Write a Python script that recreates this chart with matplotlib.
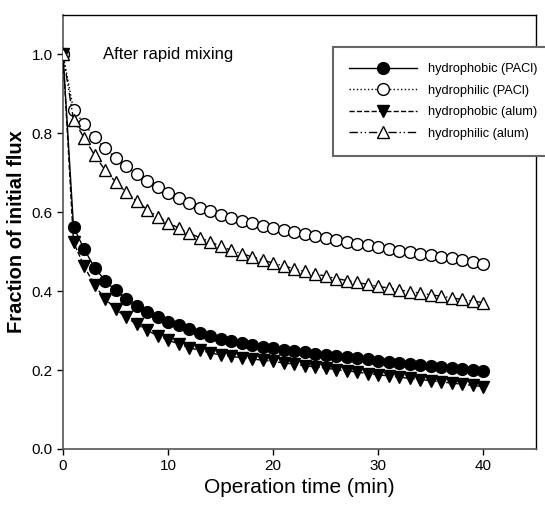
import numpy as np
import matplotlib
matplotlib.use('Agg')
import matplotlib.pyplot as plt

plt.rcParams['font.family'] = ['Liberation Sans', 'DejaVu Sans']

# Operation time (min), one reading per minute
time_min = list(range(0, 41))

# Fraction of initial flux
phobic_pacl = [1.0, 0.563, 0.507, 0.460, 0.427, 0.402, 0.381, 0.362, 0.346, 0.334,
               0.323, 0.313, 0.304, 0.295, 0.287, 0.280, 0.274, 0.268, 0.263, 0.258,
               0.256, 0.252, 0.248, 0.245, 0.242, 0.239, 0.236, 0.233, 0.230, 0.227,
               0.224, 0.221, 0.218, 0.216, 0.213, 0.210, 0.207, 0.205, 0.202, 0.200,
               0.197]
philic_pacl = [1.0, 0.860, 0.825, 0.790, 0.762, 0.738, 0.717, 0.697, 0.679, 0.663,
               0.648, 0.635, 0.623, 0.612, 0.602, 0.594, 0.586, 0.579, 0.572, 0.566,
               0.560, 0.554, 0.549, 0.544, 0.539, 0.534, 0.530, 0.525, 0.520, 0.516,
               0.512, 0.507, 0.503, 0.499, 0.495, 0.491, 0.487, 0.483, 0.479, 0.474,
               0.468]
phobic_alum = [1.0, 0.524, 0.464, 0.415, 0.381, 0.355, 0.334, 0.316, 0.301, 0.287,
               0.276, 0.266, 0.257, 0.250, 0.244, 0.238, 0.235, 0.231, 0.228, 0.225,
               0.222, 0.218, 0.215, 0.211, 0.208, 0.205, 0.201, 0.198, 0.195, 0.191,
               0.188, 0.185, 0.182, 0.179, 0.176, 0.173, 0.170, 0.167, 0.164, 0.161,
               0.158]
philic_alum = [1.0, 0.835, 0.789, 0.745, 0.707, 0.677, 0.651, 0.628, 0.607, 0.589,
               0.574, 0.560, 0.547, 0.536, 0.525, 0.514, 0.504, 0.495, 0.487, 0.479,
               0.471, 0.464, 0.457, 0.450, 0.444, 0.438, 0.432, 0.427, 0.422, 0.417,
               0.412, 0.408, 0.403, 0.399, 0.395, 0.391, 0.387, 0.383, 0.379, 0.375,
               0.371]

labels = ['hydrophobic (PACl)', 'hydrophilic (PACl)',
          'hydrophobic (alum)', 'hydrophilic (alum)']

fig = plt.figure(figsize=(5.45, 5.14), dpi=100)
ax = fig.add_axes([0.1156, 0.1265, 0.8679, 0.8443])

ax.plot(time_min, phobic_pacl, color='black', linestyle='-', linewidth=1,
        marker='o', markersize=8.5, markerfacecolor='black',
        markeredgecolor='black', label=labels[0], zorder=3)
ax.plot(time_min, philic_pacl, color='black', linestyle=':', linewidth=1,
        marker='o', markersize=8.5, markerfacecolor='white',
        markeredgecolor='black', markeredgewidth=1, label=labels[1], zorder=3)
ax.plot(time_min, phobic_alum, color='black', linestyle='--', linewidth=1,
        marker='v', markersize=8.5, markerfacecolor='black',
        markeredgecolor='black', label=labels[2], zorder=3)
ax.plot(time_min, philic_alum, color='black', linestyle=(0, (6, 2, 1, 2, 1, 2)),
        linewidth=1, marker='^', markersize=8.5, markerfacecolor='white',
        markeredgecolor='black', markeredgewidth=1, label=labels[3], zorder=3)

ax.set_xlim(0, 45)
ax.set_ylim(0, 1.1)
ax.set_xticks([0, 10, 20, 30, 40])
ax.set_yticks([0.0, 0.2, 0.4, 0.6, 0.8, 1.0])
ax.set_yticklabels(['0.0', '0.2', '0.4', '0.6', '0.8', '1.0'])
ax.tick_params(direction='out', length=4, width=1, labelsize=11, colors='black')

for side in ['left', 'bottom']:
    ax.spines[side].set_color('#555555')
    ax.spines[side].set_linewidth(1.2)
for side in ['top', 'right']:
    ax.spines[side].set_color('black')
    ax.spines[side].set_linewidth(1)

ax.set_xlabel('Operation time (min)', fontsize=15, labelpad=3)
ax.set_ylabel('Fraction of initial flux', fontsize=14.5, fontweight='bold', labelpad=4)

ax.text(3.8, 1.0, 'After rapid mixing', fontsize=12, va='center', ha='left')

leg = fig.legend(loc='upper left', bbox_to_anchor=(333 / 545, 1 - 47 / 514),
                 numpoints=1, handlelength=5.3, handletextpad=0.9,
                 fontsize=9.2, labelspacing=0.75, borderpad=1.25,
                 borderaxespad=0.0,
                 fancybox=False, framealpha=1, edgecolor='#666666')
leg.get_frame().set_linewidth(1.5)

fig.savefig('out.png', dpi=100)
